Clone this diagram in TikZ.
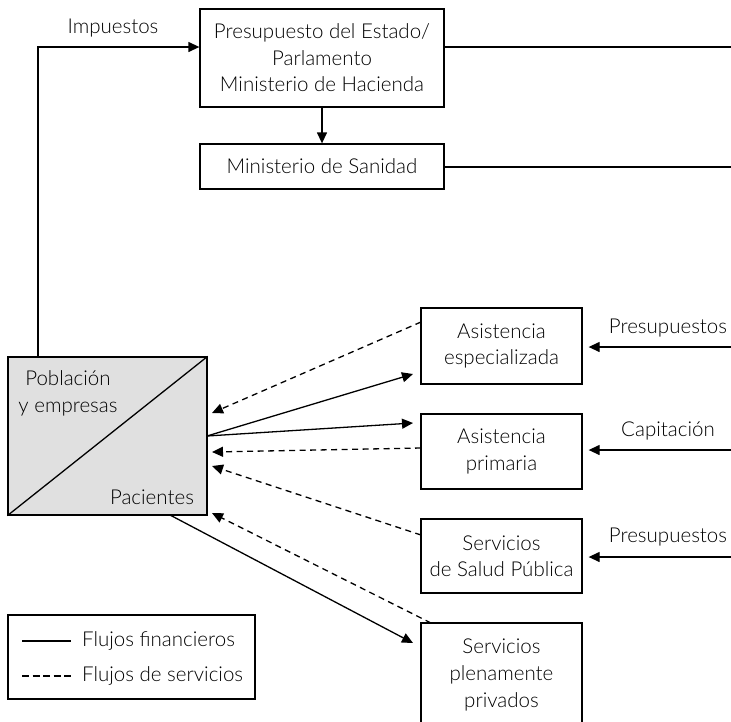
\documentclass[tikz,border=0pt]{standalone}
\usepackage{fontspec}
\setmainfont{Lato}[UprightFont={* Light}]
\usetikzlibrary{arrows.meta,calc}
\definecolor{boxgray}{RGB}{224,224,224}
\tikzset{
  box/.style={draw, line width=1.3pt, align=center, inner sep=0pt, font=\fontsize{20.5}{26.5}\selectfont},
  lbl/.style={inner sep=0pt, font=\fontsize{20.5}{27}\selectfont},
  fin/.style={line width=1.3pt},
  srv/.style={line width=1.3pt, dash pattern=on 6pt off 4.5pt},
  tip/.style={-{Triangle[length=11pt,width=10pt]}},
}
\begin{document}
\begin{tikzpicture}[x=1pt,y=-1pt]
\useasboundingbox (0,0) rectangle (731,721);
\clip (0,0) rectangle (731,721);
% boxes
\node[box, minimum width=244pt, minimum height=98pt] (pres) at (322,58) {Presupuesto del Estado/\\Parlamento\\Ministerio de Hacienda};
\node[box, minimum width=244pt, minimum height=45pt] (san) at (322,166.5) {Ministerio de Sanidad};
\node[box, minimum width=161pt, minimum height=76pt] (ae) at (501.5,346) {Asistencia\\especializada};
\node[box, minimum width=161pt, minimum height=75pt] (ap) at (501.5,451.5) {Asistencia\\primaria};
\node[box, minimum width=161pt, minimum height=74pt] (sp) at (501.5,556) {Servicios\\de Salud P\'ublica};
\node[box, minimum width=161pt, minimum height=104pt] (spp) at (501.5,675) {};
\node[lbl, align=center] (spptxt) at (501.5,675) {Servicios\\plenamente\\privados};
% poblacion
\node[box, fill=boxgray, minimum width=199pt, minimum height=158pt] (pob) at (107.5,436) {};
\draw[line width=1.3pt] (pob.south west) -- (pob.north east);
\node[lbl, align=center] (pobtxt) at (68,393) {Poblaci\'on\\y empresas};
\node[lbl] (pactxt) at (152,497) {Pacientes};
% coordinates
\coordinate (eR1) at (731,47);
\coordinate (eR2) at (731,167);
\coordinate (eR3) at (731,347);
\coordinate (eR4) at (731,450);
\coordinate (eR5) at (731,557);
\coordinate (imp) at (38,357);
\coordinate (out) at (207,436);
\coordinate (outb) at (170,515);
\coordinate (in1) at (212,413);
\coordinate (in2) at (212,452);
\coordinate (in3) at (212,466);
\coordinate (in4) at (212,513);
\coordinate (ae1) at (421,322);
\coordinate (ap1) at (421,448);
\coordinate (sp1) at (421,535);
\coordinate (spp1) at (431,623);
\coordinate (aeT) at (413,374);
\coordinate (apT) at (413,423);
\coordinate (sppT) at (413,643);
% top flows
\draw[fin] (pres.east |- eR1) -- (eR1);
\draw[fin] (san.east |- eR2) -- (eR2);
\draw[fin,tip] (pres.south) -- (san.north);
\draw[fin,tip] (imp) -- (38,47) -- (pres.west |- 0,47);
\node[lbl] (implbl) at (113,28) {Impuestos};
% right flows
\draw[fin,tip] (eR3) -- ($(ae.east |- eR3)+(6,0)$);
\draw[fin,tip] (eR4) -- ($(ap.east |- eR4)+(6,0)$);
\draw[fin,tip] (eR5) -- ($(sp.east |- eR5)+(6,0)$);
\node[lbl] (l1) at (668,328) {Presupuestos};
\node[lbl] (l2) at (668,431) {Capitaci\'on};
\node[lbl] (l3) at (668,537) {Presupuestos};
% financial flows from population
\draw[fin,tip] (out) -- (aeT);
\draw[fin,tip] (out) -- (apT);
\draw[fin,tip] (outb) -- (sppT);
% service flows
\draw[srv,tip] (ae1) -- (in1);
\draw[srv,tip] (ap1) -- (in2);
\draw[srv,tip] (sp1) -- (in3);
\draw[srv,tip] (spp1) -- (in4);
% legend
\node[draw, line width=1.3pt, minimum width=247pt, minimum height=84pt, inner sep=0pt] (leg) at (131.5,657) {};
\coordinate (la1) at (22,641);
\coordinate (la2) at (71,641);
\coordinate (lb1) at (22,676);
\coordinate (lb2) at (71,676);
\draw[fin] (la1) -- (la2);
\draw[fin, dash pattern=on 7pt off 3.5pt] (lb1) -- (lb2);
\node[lbl, anchor=west] (leg1) at (82,641) {Flujos financieros};
\node[lbl, anchor=west] (leg2) at (82,676) {Flujos de servicios};
\end{tikzpicture}
\end{document}
